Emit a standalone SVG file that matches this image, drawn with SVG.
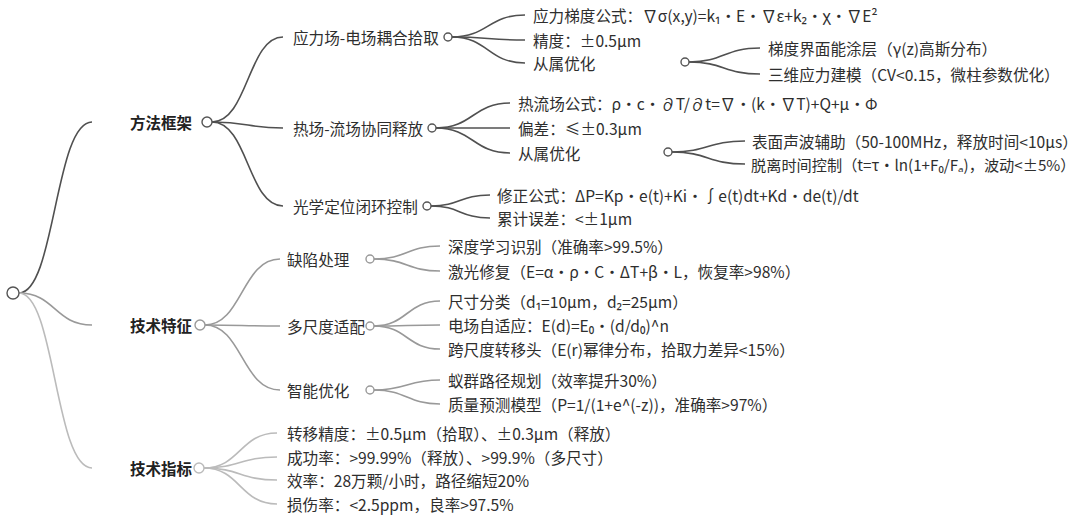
<svg xmlns="http://www.w3.org/2000/svg" width="1080" height="520" viewBox="0 0 1080 520">
<style>
text{font-family:"Noto Sans CJK SC","Noto Sans",sans-serif;font-size:15.6px;fill:#2e2e2e;dominant-baseline:central}
.l1{font-weight:bold;font-size:15.5px;fill:#222}
.sm{font-size:15.2px}
.c path{fill:none;stroke-width:1.6}
.a{stroke:#505050}
.b{stroke:#999}
.d{stroke:#bbb}
circle{fill:#fff;stroke-width:1.4}
</style>
<rect width="1080" height="520" fill="#fff"/>
<g class="c" id="connectors">
<path class="a" d="M19,293 C55,293 55,122 92,122"/>
<path class="b" d="M19,293 C55,293 55,325 92,325"/>
<path class="d" d="M19,293 C55,293 55,468 92,468"/>
<path class="a" d="M212,122 C248,122 248,37 283,37"/>
<path class="a" d="M212,122 C248,122 248,128 283,128"/>
<path class="a" d="M212,122 C248,122 248,206 283,206"/>
<path class="a" d="M452,37 C488,37 488,15 525,15"/>
<path class="a" d="M452,37 C488,37 488,40 525,40"/>
<path class="a" d="M452,37 C488,37 488,63 525,63"/>
<path class="a" d="M689,62 C724,62 724,48 760,48"/>
<path class="a" d="M689,62 C724,62 724,74 760,74"/>
<path class="a" d="M436,128 C473,128 473,103 510,103"/>
<path class="a" d="M436,128 C473,128 473,128 510,128"/>
<path class="a" d="M436,128 C473,128 473,153 510,153"/>
<path class="a" d="M672,152 C708,152 708,141 745,141"/>
<path class="a" d="M672,152 C708,152 708,164 745,164"/>
<path class="a" d="M431,206 C460,206 460,195 490,195"/>
<path class="a" d="M431,206 C460,206 460,218 490,218"/>
<path class="b" d="M205,325 C242,325 242,259 280,259"/>
<path class="b" d="M205,325 C242,325 242,326 280,326"/>
<path class="b" d="M205,325 C242,325 242,390 280,390"/>
<path class="b" d="M374,259 C407,259 407,246 440,246"/>
<path class="b" d="M374,259 C407,259 407,271 440,271"/>
<path class="b" d="M374,326 C407,326 407,301 440,301"/>
<path class="b" d="M374,326 C407,326 407,325 440,325"/>
<path class="b" d="M374,326 C407,326 407,349 440,349"/>
<path class="b" d="M374,390 C407,390 407,380 440,380"/>
<path class="b" d="M374,390 C407,390 407,404 440,404"/>
<path class="d" d="M204,468 C240,468 240,433 277,433"/>
<path class="d" d="M204,468 C240,468 240,457 277,457"/>
<path class="d" d="M204,468 C240,468 240,480 277,480"/>
<path class="d" d="M204,468 C240,468 240,504 277,504"/>
</g>
<g id="root"><circle cx="13" cy="293" r="6" stroke="#555"/></g>
<g id="n-fangfa"><text class="l1" x="130" y="122">方法框架</text><circle cx="207" cy="122" r="5" stroke="#555"/></g>
<g id="n-jishu"><text class="l1" x="130" y="325">技术特征</text><circle cx="200" cy="325" r="5" stroke="#999"/></g>
<g id="n-zhibiao"><text class="l1" x="130" y="468">技术指标</text><circle cx="199" cy="468" r="5" stroke="#bbb"/></g>
<g id="n-yingli"><text x="293" y="37">应力场-电场耦合拾取</text><circle cx="448" cy="37" r="4" stroke="#555"/></g>
<g id="n-yl1"><text x="533" y="15">应力梯度公式：∇σ(x,y)=k₁・E・∇ε+k₂・χ・∇E²</text></g>
<g id="n-yl2"><text x="533" y="40">精度：±0.5μm</text></g>
<g id="n-yl3"><text x="533" y="63">从属优化</text><circle cx="685" cy="62" r="4" stroke="#555"/></g>
<g id="n-yl3a"><text x="768" y="48">梯度界面能涂层（γ(z)高斯分布）</text></g>
<g id="n-yl3b"><text x="768" y="74">三维应力建模（CV&lt;0.15，微柱参数优化）</text></g>
<g id="n-re"><text x="293" y="128">热场-流场协同释放</text><circle cx="432" cy="128" r="4" stroke="#555"/></g>
<g id="n-re1"><text x="518" y="103">热流场公式：ρ・c・∂T/∂t=∇・(k・∇T)+Q+μ・Φ</text></g>
<g id="n-re2"><text x="518" y="128">偏差：≤±0.3μm</text></g>
<g id="n-re3"><text x="518" y="153">从属优化</text><circle cx="668" cy="152" r="4" stroke="#555"/></g>
<g id="n-re3a"><text x="752" y="141">表面声波辅助（50-100MHz，释放时间&lt;10μs）</text></g>
<g id="n-re3b"><text class="sm" x="751" y="164">脱离时间控制（t=τ・ln(1+F₀/Fₐ)，波动&lt;±5%）</text></g>
<g id="n-guang"><text x="293" y="206">光学定位闭环控制</text><circle cx="427" cy="206" r="4" stroke="#555"/></g>
<g id="n-g1"><text x="497" y="195">修正公式：ΔP=Kp・e(t)+Ki・∫e(t)dt+Kd・de(t)/dt</text></g>
<g id="n-g2"><text x="497" y="218">累计误差：&lt;±1μm</text></g>
<g id="n-quexian"><text x="287" y="259">缺陷处理</text><circle cx="370" cy="259" r="4" stroke="#999"/></g>
<g id="n-q1"><text x="448" y="246">深度学习识别（准确率&gt;99.5%）</text></g>
<g id="n-q2"><text x="448" y="271">激光修复（E=α・ρ・C・ΔT+β・L，恢复率&gt;98%）</text></g>
<g id="n-duo"><text x="287" y="326">多尺度适配</text><circle cx="370" cy="326" r="4" stroke="#999"/></g>
<g id="n-d1"><text x="448" y="301">尺寸分类（d₁=10μm，d₂=25μm）</text></g>
<g id="n-d2"><text x="448" y="325">电场自适应：E(d)=E₀・(d/d₀)^n</text></g>
<g id="n-d3"><text x="448" y="349">跨尺度转移头（E(r)幂律分布，拾取力差异&lt;15%）</text></g>
<g id="n-zhi"><text x="287" y="390">智能优化</text><circle cx="370" cy="390" r="4" stroke="#999"/></g>
<g id="n-z1"><text x="448" y="380">蚁群路径规划（效率提升30%）</text></g>
<g id="n-z2"><text x="448" y="404">质量预测模型（P=1/(1+e^(-z))，准确率&gt;97%）</text></g>
<g id="n-t1"><text x="287" y="433">转移精度：±0.5μm（拾取）、±0.3μm（释放）</text></g>
<g id="n-t2"><text x="287" y="457">成功率：&gt;99.99%（释放）、&gt;99.9%（多尺寸）</text></g>
<g id="n-t3"><text x="287" y="480">效率：28万颗/小时，路径缩短20%</text></g>
<g id="n-t4"><text x="287" y="504">损伤率：&lt;2.5ppm，良率&gt;97.5%</text></g>
</svg>
